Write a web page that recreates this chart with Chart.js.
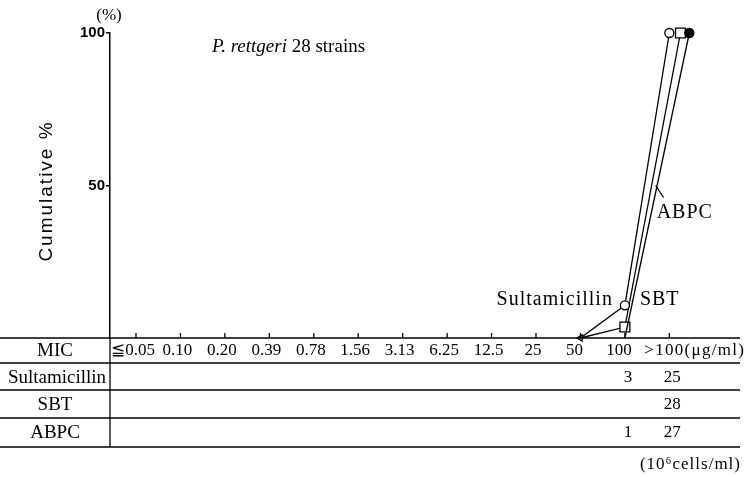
<!DOCTYPE html>
<html>
<head>
<meta charset="utf-8">
<script src="https://cdn.jsdelivr.net/npm/chart.js@4.4.0/dist/chart.umd.min.js"></script>
<style>
  html, body { margin: 0; padding: 0; background: #fff; }
  #wrap { width: 749px; height: 477px; }
</style>
</head>
<body>
<div id="wrap"><canvas id="micChart"></canvas></div>
<script>
// MIC categories (µg/ml) and cumulative %
const micLabels = ['≦0.05', '0.10', '0.20', '0.39', '0.78', '1.56', '3.13', '6.25', '12.5', '25', '50', '100', '>100'];
const sultCum = [null, null, null, null, null, null, null, null, null, null, 0, 10.7, 100];
const sbtCum  = [null, null, null, null, null, null, null, null, null, null, null, 0, 100];
const abpcCum = [null, null, null, null, null, null, null, null, null, null, 0, 3.6, 100];

// strain counts shown in the table under the chart
const sultCount = [null, null, null, null, null, null, null, null, null, null, null, 3, 25];
const sbtCount  = [null, null, null, null, null, null, null, null, null, null, null, null, 28];
const abpcCount = [null, null, null, null, null, null, null, null, null, null, null, 1, 27];

const rowNames = ['Sultamicillin', 'SBT', 'ABPC'];
const yTicks = [50, 100];

const SERIF = '"Liberation Serif", "DejaVu Serif", serif';
const SANS = '"Liberation Sans", Arial, sans-serif';

// small sideways nudge at >100 so the three end markers don't sit on top of each other
function toPoints(vals, lastShift) {
    var pts = [];
    vals.forEach(function (v, i) {
        if (v === null) return;
        pts.push({ x: i + (i === vals.length - 1 ? lastShift : 0), y: v });
    });
    return pts;
}

function lineSet(label, vals, shift, style, fill, radius) {
    var pts = toPoints(vals, shift);
    return {
        label: label,
        data: pts,
        borderColor: '#000',
        borderWidth: 1.3,
        pointStyle: pts.map(function (p) { return p.y === 0 ? 'triangle' : style; }),
        pointRotation: pts.map(function (p) { return p.y === 0 ? -90 : 0; }),
        pointRadius: pts.map(function (p) { return p.y === 0 ? (label === 'Sultamicillin' ? 3.5 : 0) : radius; }),
        pointBackgroundColor: fill,
        pointBorderColor: '#000',
        pointBorderWidth: 1.3,
        clip: false,
        tension: 0
    };
}

const tablePlugin = {
    id: 'micTable',
    afterDraw: function (chart) {
        const ctx = chart.ctx;
        const xs = chart.scales.x;
        const ys = chart.scales.y;
        const axisY = ys.getPixelForValue(0);
        const rowLines = [axisY, 363, 390, 418, 447];
        const right = 740;

        ctx.save();
        ctx.strokeStyle = '#000';
        ctx.lineWidth = 1.3;
        rowLines.forEach(function (y) {
            ctx.beginPath();
            ctx.moveTo(0, y);
            ctx.lineTo(right, y);
            ctx.stroke();
        });
        // left column divider continues the y axis
        ctx.beginPath();
        ctx.moveTo(ys.right, axisY);
        ctx.lineTo(ys.right, rowLines[4]);
        ctx.stroke();

        // little upward ticks on the MIC axis
        micLabels.forEach(function (lab, i) {
            const px = xs.getPixelForValue(i);
            ctx.beginPath();
            ctx.moveTo(px, axisY);
            ctx.lineTo(px, axisY - 5);
            ctx.stroke();
        });

        ctx.fillStyle = '#000';
        ctx.textBaseline = 'middle';

        // MIC row
        ctx.font = '17px ' + SERIF;
        micLabels.forEach(function (lab, i) {
            const px = xs.getPixelForValue(i);
            if (i === micLabels.length - 1) {
                ctx.save();
                ctx.textAlign = 'left';
                ctx.letterSpacing = '1.3px';
                ctx.fillText(lab + '(\u03bcg/ml)', px - 25, 351);
                ctx.restore();
            } else {
                ctx.textAlign = 'center';
                ctx.fillText(lab, px - (i >= 10 ? 6 : 3), 351);
            }
        });

        // row names
        ctx.font = '19px ' + SERIF;
        ctx.textAlign = 'center';
        ctx.fillText('MIC', 55, 351);
        ctx.fillText(rowNames[0], 57, 378);
        ctx.fillText(rowNames[1], 55, 405);
        ctx.fillText(rowNames[2], 55, 433);

        // counts
        ctx.font = '17px ' + SERIF;
        [sultCount, sbtCount, abpcCount].forEach(function (counts, r) {
            const y = [378, 405, 433][r];
            counts.forEach(function (c, i) {
                if (c === null) return;
                ctx.fillText(String(c), xs.getPixelForValue(i) + 3, y);
            });
        });

        // footnote
        ctx.save();
        ctx.textAlign = 'right';
        ctx.font = '17px ' + SERIF;
        ctx.letterSpacing = '1px';
        ctx.fillText('(10\u2076cells/ml)', 741, 465);
        ctx.restore();

        // (%) over the y axis
        ctx.textAlign = 'center';
        ctx.font = '17px ' + SERIF;
        ctx.fillText('(%)', ys.right - 1, 16);

        // y axis title
        ctx.save();
        ctx.translate(47, 191);
        ctx.rotate(-Math.PI / 2);
        ctx.font = '19px ' + SANS;
        ctx.letterSpacing = '2px';
        ctx.fillText('Cumulative %', 0, 0);
        ctx.restore();

        // title
        ctx.textAlign = 'left';
        ctx.font = 'italic 19px ' + SERIF;
        ctx.fillText('P. rettgeri', 212, 47);
        const w = ctx.measureText('P. rettgeri ').width;
        ctx.font = '19px ' + SERIF;
        ctx.fillText('28 strains', 212 + w, 47);

        // series labels next to their lines
        ctx.save();
        ctx.font = '20px ' + SERIF;
        ctx.letterSpacing = '1px';
        const sultPt = chart.getDatasetMeta(0).data[1];
        ctx.textAlign = 'right';
        ctx.fillText('Sultamicillin', sultPt.x - 12, sultPt.y - 6);
        ctx.textAlign = 'left';
        ctx.fillText('SBT', xs.getPixelForValue(11) + 15, sultPt.y - 6);

        const aMeta = chart.getDatasetMeta(2).data;
        const a0 = aMeta[1], a1 = aMeta[2];
        const midY = ys.getPixelForValue(50);
        const t = (a0.y - midY) / (a0.y - a1.y);
        const midX = a0.x + (a1.x - a0.x) * t + 4;
        ctx.beginPath();
        ctx.moveTo(midX, midY);
        ctx.lineTo(midX + 8, midY + 12);
        ctx.stroke();
        ctx.fillText('ABPC', midX + 1, midY + 27);
        ctx.restore();

        ctx.restore();
    }
};

const ctx = document.getElementById('micChart').getContext('2d');
const micChart = new Chart(ctx, {
    type: 'line',
    data: {
        datasets: [
            lineSet('Sultamicillin', sultCum, 0, 'circle', '#fff', 4.5),
            lineSet('SBT', sbtCum, 0.45, 'circle', '#000', 4.5),
            lineSet('ABPC', abpcCum, 0.25, 'rect', '#fff', 7)
        ]
    },
    options: {
        responsive: true,
        maintainAspectRatio: false,
        animation: false,
        devicePixelRatio: 1,
        layout: { padding: { left: 0, right: 9, top: 33, bottom: 139 } },
        plugins: {
            legend: { display: false },
            tooltip: { enabled: false }
        },
        scales: {
            x: {
                type: 'linear',
                display: false,
                min: -0.585,
                max: 13.59
            },
            y: {
                min: 0,
                max: 100,
                afterFit: function (s) { s.width = 110; },
                afterBuildTicks: function (s) {
                    s.ticks = yTicks.map(function (v) { return { value: v }; });
                },
                border: { display: true, color: '#000', width: 1.5 },
                grid: {
                    drawOnChartArea: false,
                    color: '#000',
                    lineWidth: 1.5,
                    tickLength: 4
                },
                ticks: {
                    color: '#000',
                    padding: 1,
                    font: { family: SANS, size: 15, weight: 'bold' }
                }
            }
        }
    },
    plugins: [tablePlugin]
});
</script>
</body>
</html>
